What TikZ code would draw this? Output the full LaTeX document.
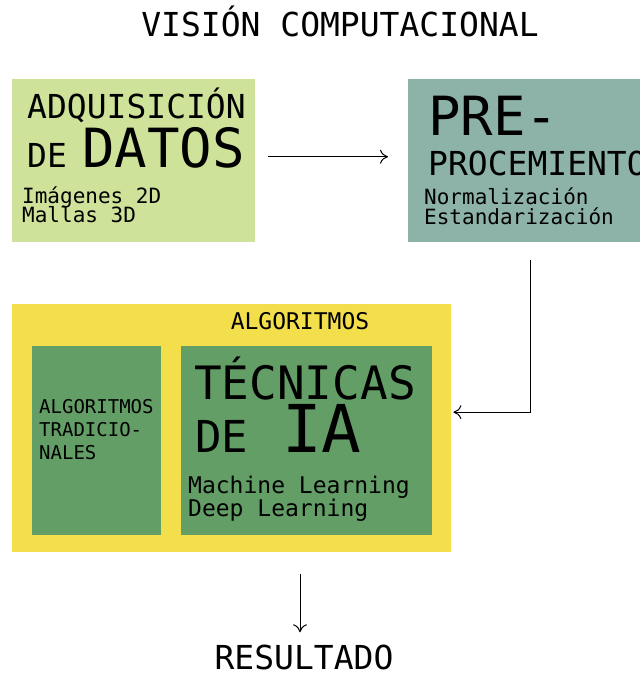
\documentclass[tikz,border=0pt]{standalone}
\usepackage{fontspec}
\setmonofont{DejaVu Sans Mono}
\usetikzlibrary{arrows.meta}
\definecolor{verdeclaro}{HTML}{CFE29A}
\definecolor{verdegris}{HTML}{8DB3A8}
\definecolor{amarillo}{HTML}{F3DE4C}
\definecolor{verde}{HTML}{639E66}
\newcommand{\fs}[1]{\fontsize{#1}{#1}\selectfont}
\tikzset{
  caja/.style={draw=none, inner sep=0pt, anchor=north west},
  txt/.style={inner sep=0pt, anchor=base west, font=\ttfamily},
  flecha/.style={-{To[length=8pt,width=14pt]}, line width=1pt},
}
\begin{document}
\begin{tikzpicture}[x=1pt,y=-1pt]
  \clip (0,0) rectangle (640,675);
  \fill[white] (0,0) rectangle (640,675);
  % title
  \node[txt, anchor=base] (titulo) at (340,36) {\fs{33}VISIÓN COMPUTACIONAL};
  % adquisicion
  \node[caja, fill=verdeclaro, minimum width=243pt, minimum height=163pt] (datos) at (12,79) {};
  \node[txt] (adq) at (27,118) {\fs{33}ADQUISICIÓN};
  \node[txt] (de1) at (27,167) {\fs{33}DE};
  \node[txt] (dat) at (82,167) {\fs{54}DATOS};
  \node[txt] (img) at (22,203) {\fs{21}Imágenes 2D};
  \node[txt] (mal) at (22,222) {\fs{21}Mallas 3D};
  % preprocesamiento
  \node[caja, fill=verdegris, minimum width=244pt, minimum height=163pt] (pre) at (408,79) {};
  \node[txt] (pre1) at (428,135) {\fs{54}PRE-};
  \node[txt] (pre2) at (428,175) {\fs{33}PROCEMIENTO};
  \node[txt] (nor) at (424,204) {\fs{21}Normalización};
  \node[txt] (est) at (424,224) {\fs{21}Estandarización};
  % algoritmos
  \node[caja, fill=amarillo, minimum width=439pt, minimum height=248pt] (algo) at (12,304) {};
  \node[txt, anchor=base] (algtit) at (300,329) {\fs{23}ALGORITMOS};
  \node[caja, fill=verde, minimum width=129pt, minimum height=189pt] (trad) at (32,346) {};
  \node[txt] (tr1) at (39,413) {\fs{19}ALGORITMOS};
  \node[txt] (tr2) at (39,436) {\fs{19}TRADICIO-};
  \node[txt] (tr3) at (39,459) {\fs{19}NALES};
  \node[caja, fill=verde, minimum width=251pt, minimum height=189pt] (ia) at (181,346) {};
  \node[txt] (tec) at (194,399) {\fs{46}TÉCNICAS};
  \node[txt] (de2) at (195,452) {\fs{44}DE};
  \node[txt] (ia2) at (282,452) {\fs{66}IA};
  \node[txt] (ml) at (188,493) {\fs{23}Machine Learning};
  \node[txt] (dl) at (188,516) {\fs{23}Deep Learning};
  % resultado
  \node[txt, anchor=base] (resultado) at (304,669) {\fs{33}RESULTADO};
  \coordinate (salida) at (300,574);
  % flechas
  \draw[flecha] ([shift={(13pt,4pt)}]datos.east) -- ([shift={(-20pt,4pt)}]pre.west);
  \draw[flecha] ([yshift=-18pt]pre.south) |- ([shift={(2pt,16pt)}]algo.east);
  \draw[flecha] (salida) -- (salida |- resultado.north) [shorten >=12pt];
\end{tikzpicture}
\end{document}
